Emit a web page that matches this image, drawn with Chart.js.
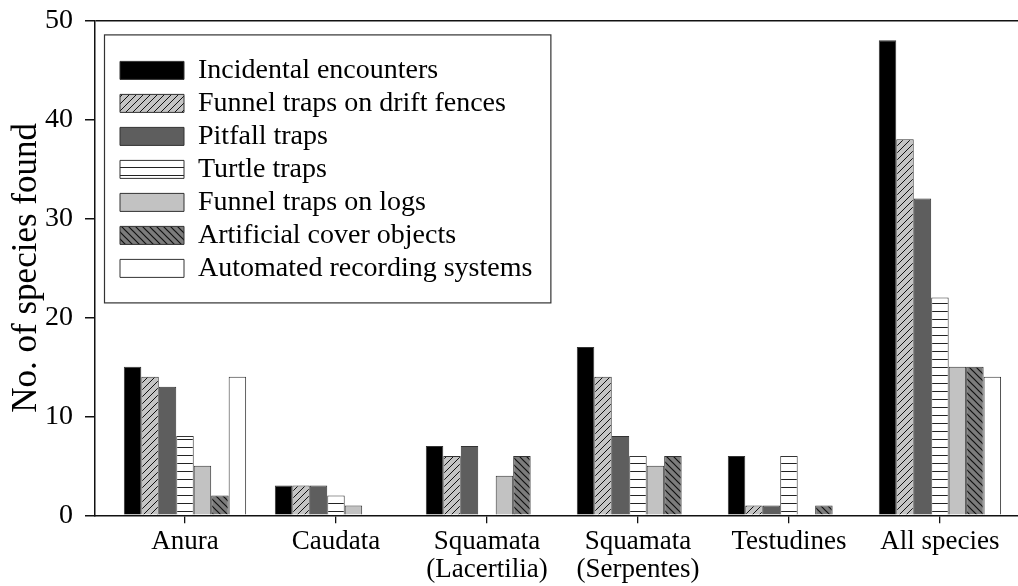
<!DOCTYPE html>
<html>
<head>
<meta charset="utf-8">
<script src="https://cdn.jsdelivr.net/npm/chart.js@4.4.1/dist/chart.umd.min.js"></script>
<style>
html,body{margin:0;padding:0;background:#fff;overflow:hidden;}
#wrap{width:1018px;height:586px;position:relative;}
</style>
</head>
<body>
<div id="wrap"><canvas id="c"></canvas></div>
<script>
// ---- data ----
const categories = [['Anura'], ['Caudata'], ['Squamata', '(Lacertilia)'], ['Squamata', '(Serpentes)'], ['Testudines'], ['All species']];
const seriesNames = ['Incidental encounters', 'Funnel traps on drift fences', 'Pitfall traps', 'Turtle traps', 'Funnel traps on logs', 'Artificial cover objects', 'Automated recording systems'];
const incidental   = [15, 3, 7, 17, 6, 48];
const funnelDrift  = [14, 3, 6, 14, 1, 38];
const pitfall      = [13, 3, 7, 8, 1, 32];
const turtle       = [8, 2, 0, 6, 6, 22];
const funnelLogs   = [5, 1, 4, 5, 0, 15];
const coverObjects = [2, 0, 6, 6, 1, 15];
const recording    = [14, 0, 0, 0, 0, 14];
const yTickValues  = [0, 10, 20, 30, 40, 50];
const yTitle = 'No. of species found';

// ---- patterns ----
function diagPattern(bg, dir, lw) {
  const s = 7;
  const cv = document.createElement('canvas');
  cv.width = s; cv.height = s;
  const g = cv.getContext('2d');
  g.fillStyle = bg; g.fillRect(0, 0, s, s);
  g.strokeStyle = '#111'; g.lineWidth = lw;
  g.beginPath();
  if (dir === '/') {
    g.moveTo(0, s); g.lineTo(s, 0);
    g.moveTo(-1, 1); g.lineTo(1, -1);
    g.moveTo(s - 1, s + 1); g.lineTo(s + 1, s - 1);
  } else {
    g.moveTo(0, 0); g.lineTo(s, s);
    g.moveTo(-1, s - 1); g.lineTo(1, s + 1);
    g.moveTo(s - 1, -1); g.lineTo(s + 1, 1);
  }
  g.stroke();
  return g.createPattern(cv, 'repeat');
}
function hPattern() {
  const cv = document.createElement('canvas');
  cv.width = 4; cv.height = 8;
  const g = cv.getContext('2d');
  g.fillStyle = '#fff'; g.fillRect(0, 0, 4, 8);
  g.fillStyle = '#222'; g.fillRect(0, 7, 4, 1.2);
  return g.createPattern(cv, 'repeat');
}

const series = [incidental, funnelDrift, pitfall, turtle, funnelLogs, coverObjects, recording];
const fills = ['#000000', diagPattern('#c4c4c4', '/', 1), '#5e5e5e', hPattern(), '#c2c2c2', diagPattern('#7c7c7c', '\\', 1.2), '#ffffff'];

const datasets = series.map((vals, k) => ({
  label: seriesNames[k],
  data: vals.map((v, i) => ({x: i, y: v})),
  backgroundColor: fills[k],
  borderColor: '#333',
  borderWidth: 1,
  categoryPercentage: 0.81,
  barPercentage: 1.0
}));

const FONT = 'Liberation Serif';

const legendPlacer = {
  id: 'legendPlacer',
  afterLayout(chart) {
    const lg = chart.legend;
    if (!lg) return;
    lg.left = chart.chartArea.left + 20;
    lg.top = chart.chartArea.top + 31;
  },
  afterDraw(chart) {
    const lg = chart.legend;
    if (!lg || !lg.legendHitBoxes || !lg.legendHitBoxes.length) return;
    const hb = lg.legendHitBoxes;
    let right = 0;
    hb.forEach(h => { right = Math.max(right, h.left + h.width); });
    const l = hb[0].left - 16, t = hb[0].top - 22;
    const last = hb[hb.length - 1];
    const b = last.top + last.height + 20;
    const ctx = chart.ctx;
    ctx.save();
    ctx.strokeStyle = '#333';
    ctx.lineWidth = 1.2;
    ctx.strokeRect(l + 0.5, t + 0.5, right + 18 - l, b - t);
    ctx.restore();
  }
};

new Chart(document.getElementById('c'), {
  type: 'bar',
  data: { datasets },
  options: {
    responsive: true,
    maintainAspectRatio: false,
    animation: false,
    layout: { padding: { top: 16, bottom: -2, right: 0, left: 0 } },
    plugins: {
      tooltip: { enabled: false },
      legend: {
        position: 'chartArea',
        align: 'start',
        labels: {
          boxWidth: 64,
          boxHeight: 18,
          padding: 5,
          color: '#000',
          font: { family: FONT, size: 28 }
        }
      }
    },
    scales: {
      x: {
        type: 'linear',
        min: -0.596,
        max: 5.517,
        offset: false,
        grid: { offset: false, drawOnChartArea: false, tickLength: 8, tickColor: '#111', lineWidth: 1.3 },
        border: { display: true, color: '#111', width: 1.5 },
        ticks: {
          stepSize: 1,
          includeBounds: false,
          autoSkip: false,
          maxRotation: 0,
          padding: 4,
          color: '#000',
          font: { family: FONT, size: 27, lineHeight: 1.05 },
          callback: (v) => Number.isInteger(v) && categories[v] ? categories[v] : ''
        }
      },
      y: {
        min: 0,
        max: 50,
        afterFit: (s) => { s.width = 95; },
        afterBuildTicks: (s) => { s.ticks = yTickValues.map(v => ({ value: v })); },
        grid: {
          drawOnChartArea: true,
          color: (c) => (c.tick && c.tick.value === 50) ? '#111' : 'rgba(0,0,0,0)',
          tickColor: '#111',
          tickLength: 10,
          lineWidth: 1.5
        },
        border: { display: true, color: '#111', width: 1.5 },
        ticks: {
          padding: 12,
          color: '#000',
          font: { family: FONT, size: 28, lineHeight: 0.6 }
        },
        title: {
          display: true,
          text: yTitle,
          color: '#000',
          font: { family: FONT, size: 35 },
          padding: { top: 6, bottom: 0 }
        }
      }
    }
  },
  plugins: [legendPlacer]
});
</script>
</body>
</html>
